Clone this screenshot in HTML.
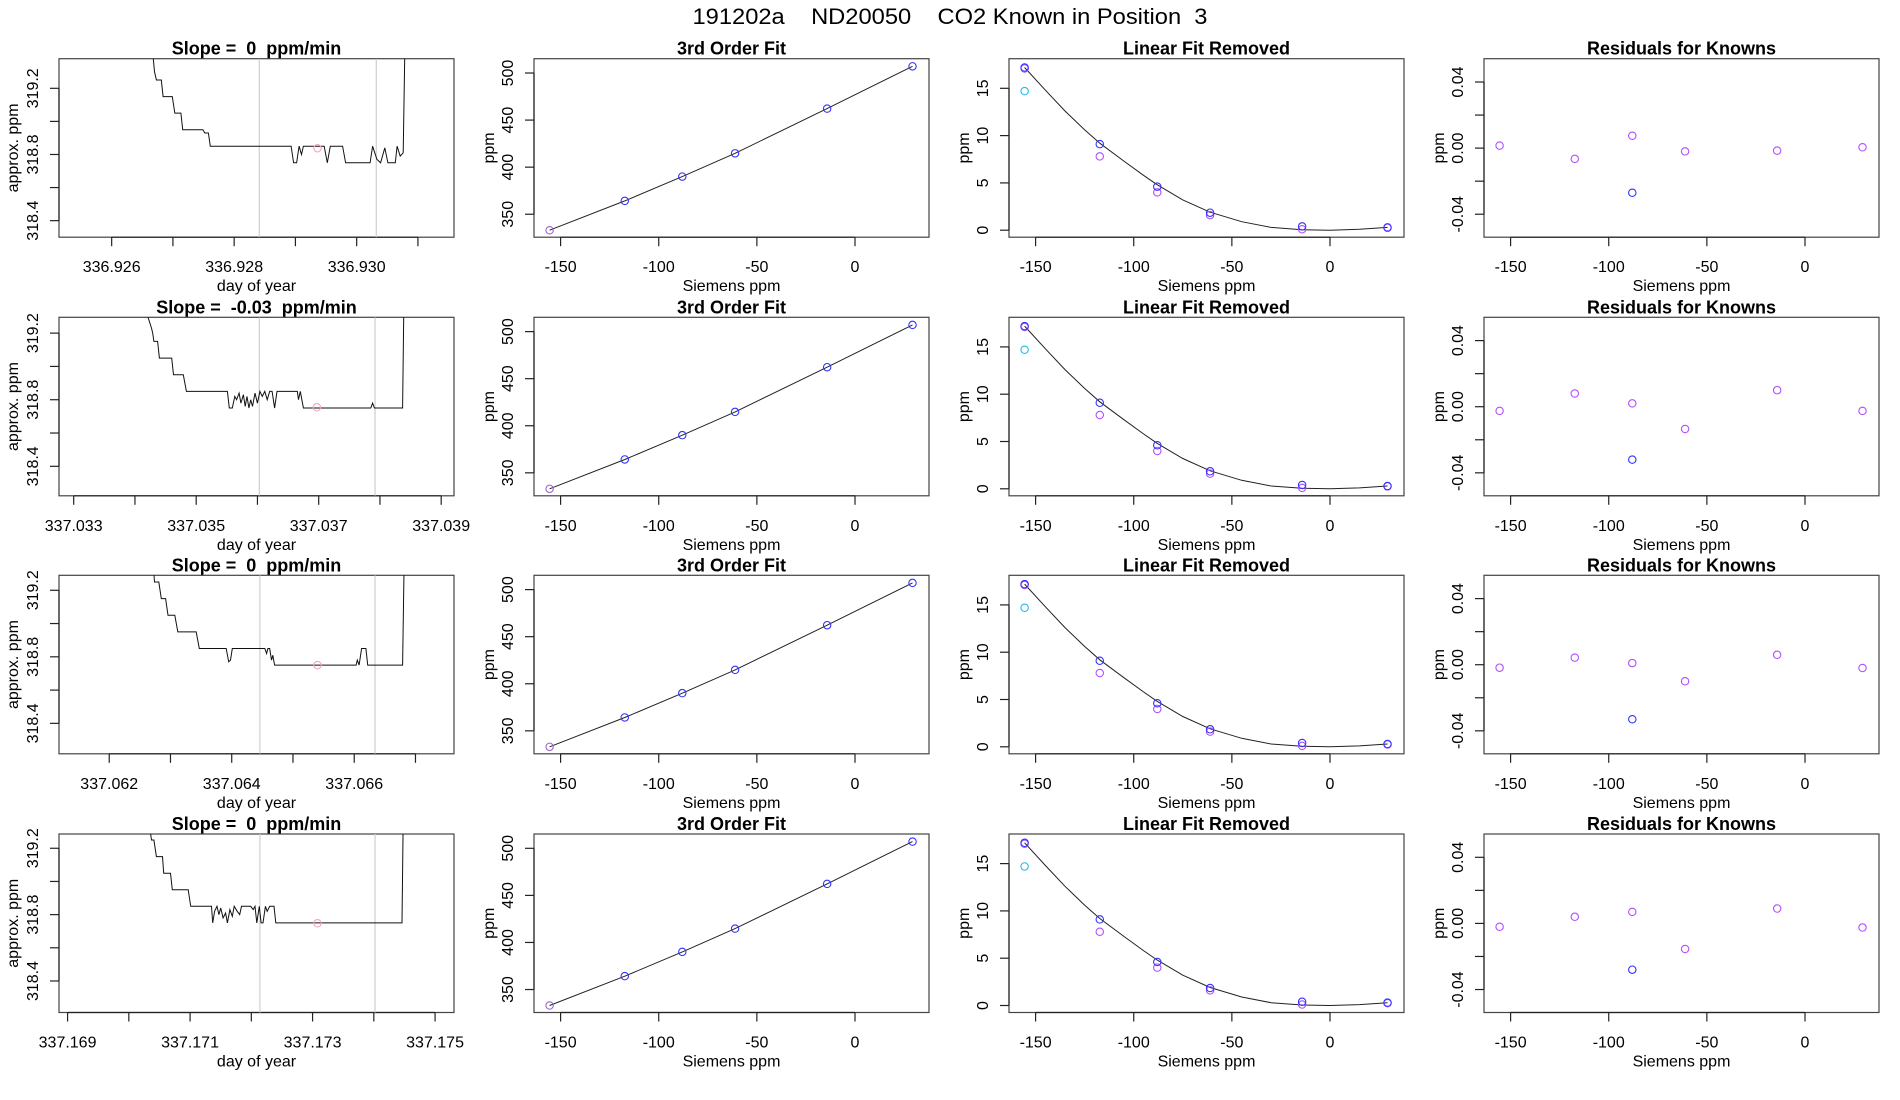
<!DOCTYPE html>
<html><head><meta charset="utf-8"><title>CO2 Known in Position 3</title>
<style>
html,body{margin:0;padding:0;background:#fff;}
svg{display:block;font-family:"Liberation Sans",Arial,sans-serif;}
svg text{white-space:pre;}
</style></head>
<body>
<svg id="fig" width="1900" height="1100" viewBox="0 0 1900 1100" xmlns="http://www.w3.org/2000/svg">
<rect x="0" y="0" width="1900" height="1100" fill="#fff"/>
<text x="950" y="24" font-size="22" text-anchor="middle" xml:space="preserve" textLength="515" lengthAdjust="spacingAndGlyphs">191202a    ND20050    CO2 Known in Position  3</text>
</svg>
<script>
// ---------- data ----------
const slopeLabels = ["0", "-0.03", "0", "0"];
const knownX = [-155.6, -117.3, -88, -61.1, -14.2, 29.3];
const fitY = [333, 364.2, 390, 414.7, 462.2, 507.1];
const curveX = [-155.6, -145, -135, -125, -117.3, -105, -95, -88, -75, -61.1, -45, -30, -14.2, 0, 15, 29.3];
const curveY = [17.2, 14.8, 12.6, 10.6, 9.2, 7.3, 5.8, 4.8, 3.2, 1.9, 0.9, 0.3, 0.05, 0.0, 0.1, 0.3];
const linBlueY = [17.2, 9.1, 4.6, 1.85, 0.4, 0.3];
const linPurpleY = [17.1, 7.8, 4.0, 1.6, 0.1, 0.25];
const cyanY = [14.7];
const resPurple1 = [0.0015, -0.0065, 0.0075, -0.002, -0.0015, 0.0005];
const resPurple2 = [-0.0025, 0.008, 0.002, -0.0135, 0.010, -0.0025];
const resPurple3 = [-0.0018, 0.0043, 0.001, -0.010, 0.006, -0.002];
const resPurple4 = [-0.002, 0.004, 0.007, -0.0155, 0.009, -0.0025];
const resBlue = [-0.027, -0.032, -0.033, -0.028];
const blueResidX = -88;

const tsT1 = [336.92665,336.92670,336.92673,336.92681,336.92684,336.92699,336.92703,336.92713,336.92716,336.92749,336.92752,336.92758,336.92761,336.92893,336.92897,336.92902,336.92906,336.92910,336.92913,336.92947,336.92952,336.92957,336.92977,336.92982,336.93022,336.93026,336.93033,336.93039,336.93046,336.93051,336.93063,336.93066,336.93071,336.93076,336.93081];
const tsV1 = [319.5,319.30,319.25,319.25,319.15,319.15,319.05,319.05,318.95,318.95,318.93,318.93,318.85,318.85,318.75,318.75,318.85,318.80,318.85,318.85,318.75,318.85,318.85,318.75,318.75,318.85,318.77,318.75,318.84,318.75,318.75,318.85,318.79,318.81,320.0];
const tsT2 = [337.03421,337.03427,337.03429,337.03431,337.03437,337.03440,337.03460,337.03463,337.03479,337.03484,337.03551,337.03554,337.03559,337.03563,337.03566,337.03570,337.03573,337.03577,337.03580,337.03583,337.03586,337.03589,337.03592,337.03596,337.03600,337.03604,337.03608,337.03612,337.03616,337.03620,337.03624,337.03628,337.03632,337.03636,337.03665,337.03667,337.03670,337.03675,337.03785,337.03788,337.03791,337.03837,337.03841];
const tsV2 = [319.30,319.23,319.20,319.15,319.15,319.05,319.05,318.95,318.95,318.85,318.85,318.75,318.75,318.82,318.80,318.84,318.78,318.83,318.76,318.82,318.75,318.80,318.76,318.84,318.78,318.85,318.82,318.85,318.80,318.85,318.85,318.75,318.85,318.85,318.85,318.80,318.85,318.75,318.75,318.78,318.75,318.75,320.0];
const tsT3 = [337.06273,337.06274,337.06281,337.06285,337.06292,337.06296,337.06307,337.06312,337.06342,337.06347,337.06391,337.06395,337.06398,337.06401,337.06454,337.06457,337.06459,337.06462,337.06465,337.06467,337.06470,337.06603,337.06605,337.06608,337.06612,337.06619,337.06622,337.06679,337.06684];
const tsV3 = [319.30,319.25,319.25,319.15,319.15,319.05,319.05,318.95,318.95,318.85,318.85,318.77,318.78,318.85,318.85,318.82,318.85,318.85,318.78,318.81,318.75,318.75,318.78,318.75,318.85,318.85,318.75,318.75,320.0];
const tsT4 = [337.17035,337.17037,337.17041,337.17045,337.17055,337.17057,337.17068,337.17071,337.17097,337.17101,337.17135,337.17137,337.17140,337.17144,337.17147,337.17150,337.17154,337.17158,337.17161,337.17165,337.17169,337.17172,337.17177,337.17181,337.17184,337.17199,337.17203,337.17206,337.17209,337.17213,337.17216,337.17219,337.17223,337.17226,337.17230,337.17237,337.17240,337.17446,337.17450];
const tsV4 = [319.30,319.25,319.25,319.15,319.15,319.05,319.05,318.95,318.95,318.85,318.85,318.75,318.82,318.85,318.80,318.84,318.78,318.81,318.75,318.83,318.79,318.85,318.82,318.80,318.85,318.85,318.83,318.85,318.75,318.85,318.75,318.75,318.85,318.82,318.85,318.85,318.75,318.75,320.0];
const grayLines = [[336.92841,336.93032],[337.03603,337.03792],[337.06446,337.06634],[337.17214,337.17402]];
const pinkT = [336.92936, 337.03697, 337.06540, 337.17308];
const pinkV = [318.838, 318.755, 318.75, 318.748];
const dayTicks = [
  [336.926,336.927,336.928,336.929,336.930,336.931],
  [337.033,337.034,337.035,337.036,337.037,337.038,337.039],
  [337.062,337.063,337.064,337.065,337.066,337.067],
  [337.169,337.170,337.171,337.172,337.173,337.174,337.175]
];
const ppmTicks1 = [318.4, 318.6, 318.8, 319.0, 319.2];
const ppmTicks2 = [350, 400, 450, 500];
const ppmTicks3 = [0, 5, 10, 15];
const ppmTicks4 = [-0.04, -0.02, 0, 0.02, 0.04];
const siemensTicks = [-150, -100, -50, 0];

// ---------- layout (not data) ----------
const NS = "http://www.w3.org/2000/svg";
const svg = document.getElementById("fig");
const colL = [59, 534, 1009, 1484];
const rowT = [58.7, 317.3, 575.3, 834];
const W = 395, H = 178.5;
const dayMin = [336.92514, 337.03276, 337.06118, 337.16886];
const daySpan = 0.006449;
const ts1Range = [[318.30,319.379],[318.223,319.295],[318.217,319.29],[318.21,319.286]];
const sxMin = -163.55, sxMax = 37.7;
const fitRange = [325.6, 515.2], linRange = [-0.74, 18.13], resRange = [-0.0539, 0.0541];
const PURPLE = "#b24dff", BLUE = "#3333ff", CYAN = "#22bbee";

function mk(tag, attrs, parent) {
  const e = document.createElementNS(NS, tag);
  for (const k in attrs) e.setAttribute(k, attrs[k]);
  (parent || svg).appendChild(e);
  return e;
}
function txt(str, attrs, parent) { const e = mk("text", attrs, parent); e.textContent = str; return e; }
function lin(d0, d1, r0, r1) { return v => r0 + (v - d0) / (d1 - d0) * (r1 - r0); }

function panel(r, c, title, xScale, yScale, xt, xlab, yt, ylab, ylabel, tickLabelOff, ylabOff, xtitle) {
  const L = colL[c], T = rowT[r], B = T + H;
  const g = mk("g", {});
  
  
  const t = txt(title, {x: L + W / 2, y: T - 4, "font-size": 18, "font-weight": "bold", "text-anchor": "middle"}, g);
  
  
  const box = mk("rect", {x: L, y: T, width: W, height: H, fill: "none", stroke: "#444", "stroke-width": 1.2}, g);
  
  
  const xa = mk("g", {}, g);
  
  
  const xs = xt.map(xScale);
  mk("line", {x1: xs[0], x2: xs[xs.length - 1], y1: B, y2: B, stroke: "#222", "stroke-width": 1.2}, xa);
  xt.forEach((v, i) => {
    const x = xScale(v);
    mk("line", {x1: x, x2: x, y1: B, y2: B + 9, stroke: "#222", "stroke-width": 1.2}, xa);
    if (xlab(i)) {
      const l = txt(xlab(i), {x: x, y: B + 35, "font-size": 16, "text-anchor": "middle"}, xa);
      
      
    }
  });
  const xtl = txt(xtitle, {x: L + W / 2, y: B + 54, "font-size": 16, "text-anchor": "middle"}, g);
  
  
  const ya = mk("g", {}, g);
  
  
  const ys = yt.map(yScale);
  mk("line", {x1: L, x2: L, y1: ys[0], y2: ys[ys.length - 1], stroke: "#222", "stroke-width": 1.2}, ya);
  yt.forEach((v, i) => {
    const y = yScale(v);
    mk("line", {x1: L - 9, x2: L, y1: y, y2: y, stroke: "#222", "stroke-width": 1.2}, ya);
    if (ylab(i)) {
      const bx = L + tickLabelOff;
      const l = txt(ylab(i), {x: bx, y: y, "font-size": 16, "text-anchor": "middle", transform: "rotate(-90 " + bx + " " + y + ")"}, ya);
      
      
    }
  });
  const yx = L + ylabOff, yy = T + H / 2;
  const ytl = txt(ylabel, {x: yx, y: yy, "font-size": 16, "text-anchor": "middle", transform: "rotate(-90 " + yx + " " + yy + ")"}, g);
  
  
  const cp = mk("clipPath", {id: "cp" + r + c}, g);
  mk("rect", {x: L, y: T, width: W, height: H}, cp);
  const marks = mk("g", {"clip-path": "url(#cp" + r + c + ")"}, g);
  
  
  return marks;
}
function circle(g, x, y, col, name) {
  const c = mk("circle", {cx: x, cy: y, r: 3.7, fill: "none", stroke: col, "stroke-width": 1.1}, g);
  
  
  return c;
}

const tsT = [tsT1, tsT2, tsT3, tsT4], tsV = [tsV1, tsV2, tsV3, tsV4];
const resP = [resPurple1, resPurple2, resPurple3, resPurple4];
const fmt3 = v => v.toFixed(3);

for (let r = 0; r < 4; r++) {
  const T = rowT[r], B = T + H;
  {
    const L = colL[0];
    const xS = lin(dayMin[r], dayMin[r] + daySpan, L, L + W);
    const yS = lin(ts1Range[r][0], ts1Range[r][1], B, T);
    const g = panel(r, 0, "Slope =  " + slopeLabels[r] + "  ppm/min", xS, yS, dayTicks[r],
      i => (i % 2 === 0 ? fmt3(dayTicks[r][i]) : null), ppmTicks1,
      i => (i % 2 === 0 ? ppmTicks1[i].toFixed(1) : null), "approx. ppm", -21, -41, "day of year");
    grayLines[r].forEach(d => {
      const gl = mk("line", {x1: xS(d), x2: xS(d), y1: T, y2: B, stroke: "#cfcfcf", "stroke-width": 1.2}, g);
      
      
    });
    const pts = tsT[r].map((t, i) => xS(t).toFixed(1) + "," + yS(tsV[r][i]).toFixed(1)).join(" ");
    const pl = mk("polyline", {points: pts, fill: "none", stroke: "#111", "stroke-width": 1}, g);
    
    
    circle(g, xS(pinkT[r]), yS(pinkV[r]), "#f4a6b4", "mean-point");
  }
  const sx = c => lin(sxMin, sxMax, colL[c], colL[c] + W);
  const intLab = arr => i => String(arr[i]);
  {
    const xS = sx(1), yS = lin(fitRange[0], fitRange[1], B, T);
    const g = panel(r, 1, "3rd Order Fit", xS, yS, siemensTicks, intLab(siemensTicks), ppmTicks2, intLab(ppmTicks2), "ppm", -21, -40, "Siemens ppm");
    const pts = knownX.map((x, i) => xS(x).toFixed(1) + "," + yS(fitY[i]).toFixed(1)).join(" ");
    const pl = mk("polyline", {points: pts, fill: "none", stroke: "#222", "stroke-width": 1}, g);
    
    
    knownX.forEach((x, i) => circle(g, xS(x), yS(fitY[i]), i === 0 ? "#9a66cc" : BLUE, 'known-point'));
  }
  {
    const xS = sx(2), yS = lin(linRange[0], linRange[1], B, T);
    const g = panel(r, 2, "Linear Fit Removed", xS, yS, siemensTicks, intLab(siemensTicks), ppmTicks3, intLab(ppmTicks3), "ppm", -21, -40, "Siemens ppm");
    const pts = curveX.map((x, i) => xS(x).toFixed(1) + "," + yS(curveY[i]).toFixed(1)).join(" ");
    const pl = mk("polyline", {points: pts, fill: "none", stroke: "#222", "stroke-width": 1}, g);
    
    
    knownX.forEach((x, i) => circle(g, xS(x), yS(linPurpleY[i]), PURPLE, 'fit-point'));
    knownX.forEach((x, i) => circle(g, xS(x), yS(linBlueY[i]), BLUE, 'known-point'));
    circle(g, xS(knownX[0]), yS(cyanY[0]), CYAN, 'unknown-point');
  }
  {
    const xS = sx(3), yS = lin(resRange[0], resRange[1], B, T);
    const g = panel(r, 3, "Residuals for Knowns", xS, yS, siemensTicks, intLab(siemensTicks), ppmTicks4,
      i => (i % 2 === 0 ? ppmTicks4[i].toFixed(2) : null), "ppm", -21, -40, "Siemens ppm");
    knownX.forEach((x, i) => circle(g, xS(x), yS(resP[r][i]), PURPLE, 'residual-point'));
    circle(g, xS(blueResidX), yS(resBlue[r]), BLUE, 'excluded-residual-point');
  }
}
</script>
</body></html>
